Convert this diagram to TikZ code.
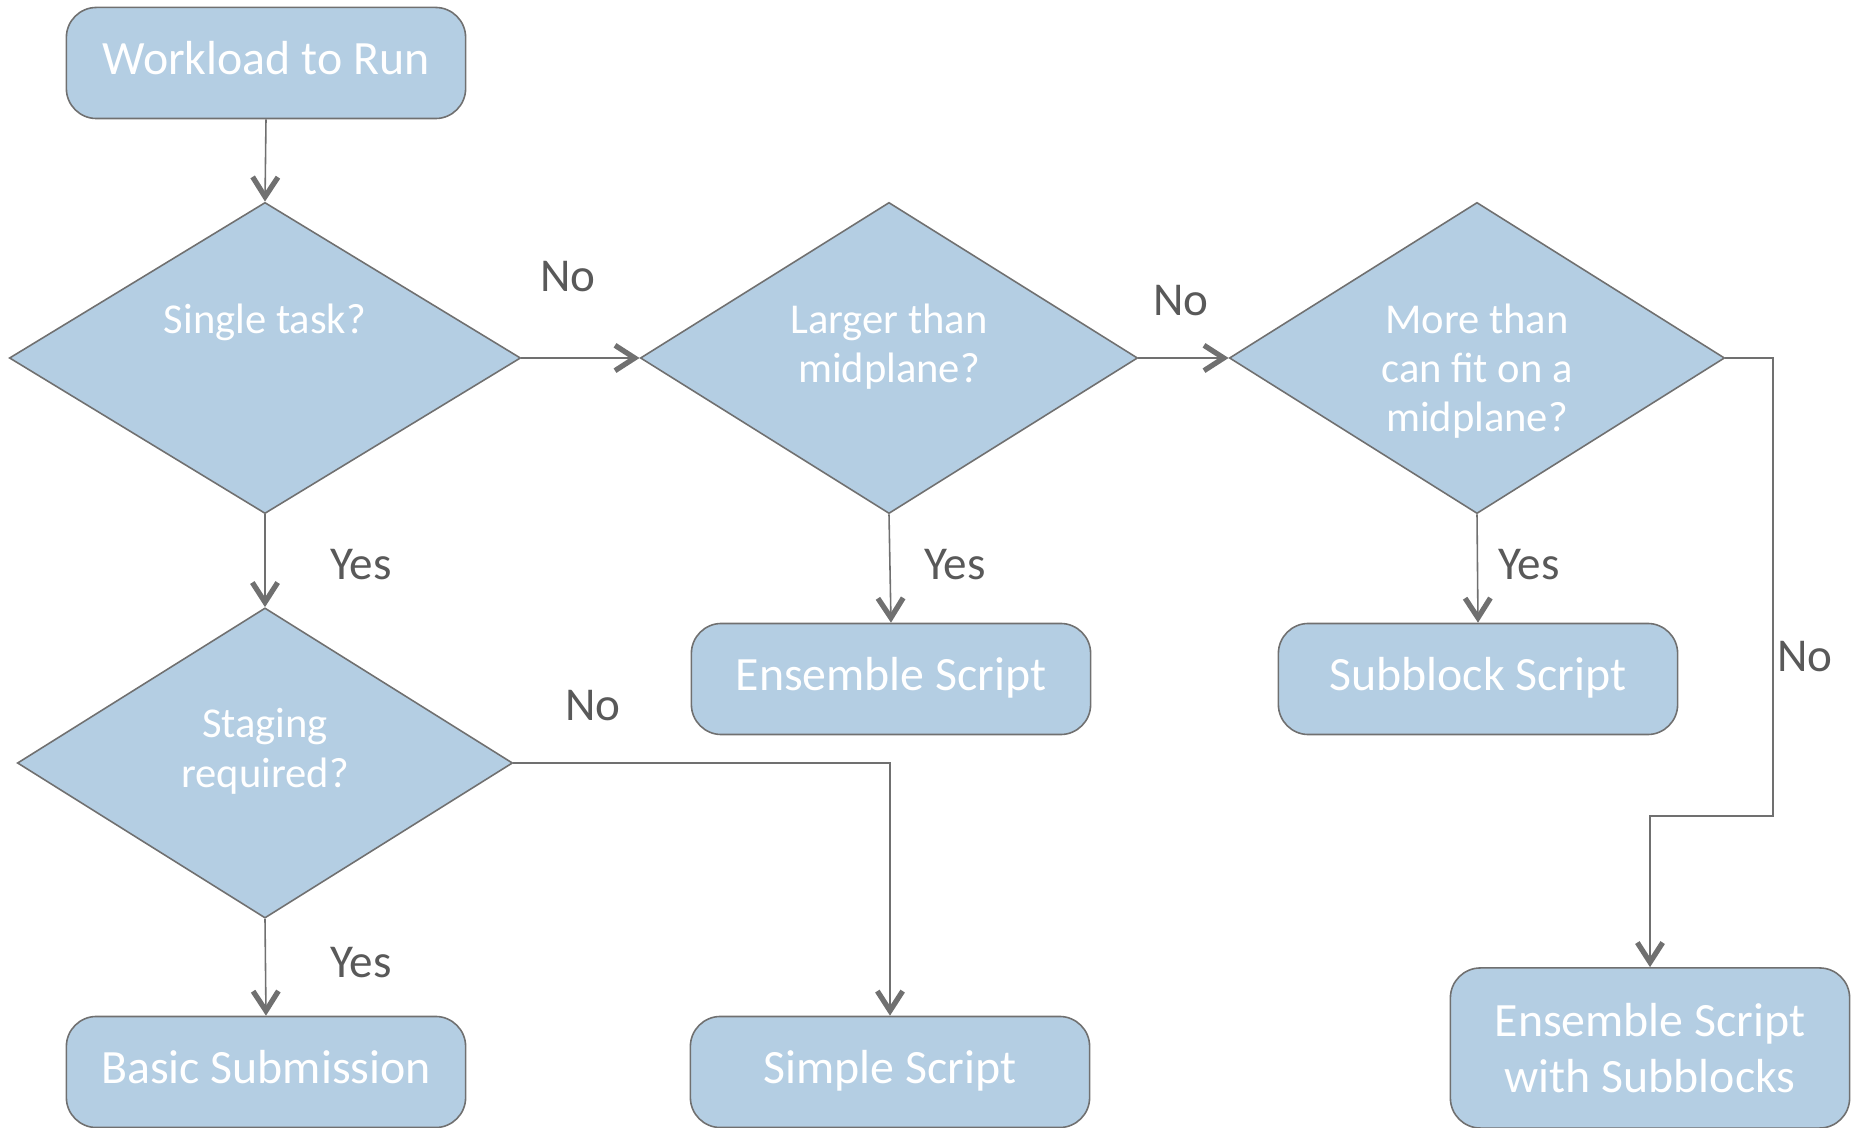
\documentclass[tikz,border=0pt]{standalone}
\usepackage{fontspec}
\setmainfont{Carlito}
\usetikzlibrary{shapes.geometric}
\usetikzlibrary{arrows.meta}
\definecolor{boxblue}{RGB}{180,206,227}
\definecolor{edgegray}{RGB}{112,112,112}
\definecolor{labelgray}{RGB}{89,89,89}

\begin{document}
\begin{tikzpicture}[x=0.01cm, y=-0.01cm,
  box/.style={draw=edgegray, fill=boxblue, rounded corners=0.3cm, line width=0.45pt,
    minimum width=3.99cm, minimum height=1.11cm, inner sep=0pt,
    text=white, align=center, font=\fontsize{13.6}{16}\selectfont},
  onebox/.style={box, text height=9.6pt, text depth=2.8pt},
  decision/.style={diamond, draw=edgegray, fill=boxblue, line width=0.45pt,
    minimum width=4.97cm, minimum height=3.11cm, inner sep=0pt},
  dtext/.style={anchor=north, inner sep=0pt, text=white, align=center,
    font=\fontsize{12.1}{14}\selectfont},
  answer/.style={inner sep=0pt, text=labelgray, font=\fontsize{13.4}{15}\selectfont},
  flow/.style={draw=edgegray, line width=0.45pt,
    -{Straight Barb[length=5.6pt, width=7.2pt, line width=1.5pt]}}]

\useasboundingbox (0,0) rectangle (1857,1128);

\begin{scope}
  \node[onebox] (work) at (266,63) {Workload to Run};

  \node[decision, minimum width=5.11cm] (single) at (265,358) {};
  \node[dtext] (singletxt) at ([yshift=0.55cm]single.center) {Single task?};

  \node[decision] (larger) at (889,358) {};
  \node[dtext] (largertxt) at ([yshift=0.55cm]larger.center) {Larger than\\midplane?};

  \node[decision, minimum width=4.95cm] (morethan) at (1477,358) {};
  \node[dtext] (morethantxt) at ([yshift=0.55cm]morethan.center) {More than\\can fit on a\\midplane?};

  \node[decision, minimum width=4.95cm, minimum height=3.10cm] (staging) at (265,763) {};
  \node[dtext] (stagingtxt) at ([yshift=0.55cm]staging.center) {Staging\\required?};
\end{scope}

\begin{scope}
  \node[onebox] (ensemble) at (891,679) {Ensemble Script};
  \node[onebox] (subblock) at (1478,679) {Subblock Script};
  \node[onebox] (basic) at (266,1072) {Basic Submission};
  \node[onebox] (simple) at (890,1072) {Simple Script};
  \node[box, minimum height=1.6cm] (enssub) at (1650,1048) {Ensemble Script\\with Subblocks};
\end{scope}

\coordinate (turn) at (1773,816);

\draw[flow] (work.south) -- (single.north);
\draw[flow] (single.east) -- (larger.west);
\draw[flow] (larger.east) -- (morethan.west);
\draw[flow] (morethan.east) -| (turn) -| (enssub.north);
\draw[flow] (single.south) -- (staging.north);
\draw[flow] (larger.south) -- (ensemble.north);
\draw[flow] (morethan.south) -- (subblock.north);
\draw[flow] (staging.east) -| (simple.north);
\draw[flow] (staging.south) -- (basic.north);

\node[answer] (no1) at (568,277) {No};
\node[answer] (no2) at (1181,301) {No};
\node[answer] (no3) at (593,706) {No};
\node[answer] (no4) at (1805,657) {No};
\node[answer] (yes1) at (361,565) {Yes};
\node[answer] (yes2) at (955,565) {Yes};
\node[answer] (yes3) at (1529,565) {Yes};
\node[answer] (yes4) at (361,963) {Yes};

\end{tikzpicture}
\end{document}
